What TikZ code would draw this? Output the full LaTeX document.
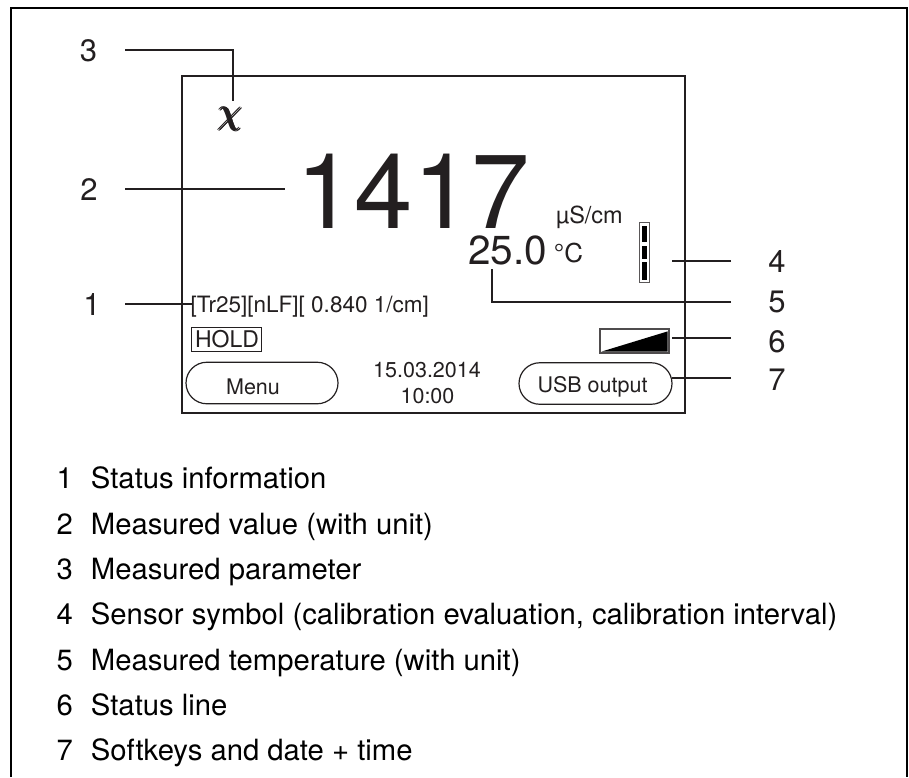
\documentclass[tikz,border=0pt]{standalone}
\usepackage{fontspec}
\setmainfont{TeX Gyre Heros}
\usepackage{xcolor}
\usetikzlibrary{positioning, shapes.misc, calc}
\definecolor{inkBlack}{HTML}{231F20}
\newcommand{\thickchi}{\rlap{$\chi$}\rlap{\kern1.6pt$\chi$}\rlap{\kern.8pt\raisebox{.6pt}{$\chi$}}\rlap{\kern.8pt\raisebox{-.6pt}{$\chi$}}\kern1.6pt$\chi$}
\begin{document}
\begin{tikzpicture}[
  x=1pt, y=-1pt,
  callout/.style={font=\fontsize{31}{31}\selectfont, text=inkBlack, inner sep=0pt, anchor=base},
  lead/.style={draw=inkBlack, line width=2pt},
  softkey/.style={draw=inkBlack, rounded rectangle, line width=1.2pt, minimum height=41.5pt, inner sep=0pt},
  screentxt/.style={font=\fontsize{21.5}{21.5}\selectfont, text=inkBlack, inner sep=0pt, anchor=base},
  legend/.style={font=\fontsize{29.25}{30}\selectfont, text=black, inner sep=0pt, anchor=base west}
]
  \useasboundingbox (0,0) rectangle (909,777);
  \draw[black, line width=2pt] (11,777) -- (11,8) -- (907,8) -- (907,777);
  \node[draw=inkBlack, line width=1.7pt, minimum width=503pt, minimum height=337pt, inner sep=0pt] (screen) at (433.5,244.5) {};

  % screen contents
  \node[inner sep=0pt, text=inkBlack, font=\fontsize{24}{24}\selectfont] (param) at (229.5,119.5) {\scalebox{1.6}[1.45]{\thickchi}};
  \node[inner sep=0pt, text=inkBlack, anchor=base, font=\fontsize{105}{105}\selectfont] (value) at (413,228) {1417};
  \node[screentxt, font=\fontsize{23.5}{24}\selectfont] (unit) at (589.5,223) {µS/cm};
  \node[inner sep=0pt, text=inkBlack, anchor=base, font=\fontsize{40.5}{41}\selectfont] (temp) at (507.5,264) {25.0};
  \node[screentxt, font=\fontsize{26}{26}\selectfont] (tempunit) at (568.5,262) {°C};
  \node[draw=inkBlack!75, line width=1.3pt, minimum width=10.5pt, minimum height=60pt, inner sep=0pt] (sensor) at (644.5,252.5) {};
  \foreach \ya/\yb in {226/242, 246/259, 262/280}
    \fill[black] (642,\ya) rectangle (647,\yb);
  \node[screentxt, anchor=base west, font=\fontsize{22.5}{23}\selectfont] (status) at (190.5,312.5) {[Tr25][nLF][ 0.840 1/cm]};
  \node[draw=inkBlack, line width=1pt, minimum width=70pt, minimum height=24pt, inner sep=0pt] (holdbox) at (226,339) {};
  \node[screentxt, font=\fontsize{23}{23}\selectfont] (hold) at (227,347) {HOLD};
  \node[draw=inkBlack!80, line width=1.2pt, minimum width=69pt, minimum height=24pt, inner sep=0pt] (bar) at (634.5,341) {};
  \fill[black] ($(bar.south west)+(2,-2)$) -- ($(bar.north east)+(-2,3)$) -- ($(bar.south east)+(-2,-2)$) -- cycle;
  \node[softkey, minimum width=152pt] (menu) at (262,383) {};
  \node[screentxt] (menutxt) at (253,394) {Menu};
  \node[screentxt] (date) at (427,377) {15.03.2014};
  \node[screentxt] (time) at (427.5,403) {10:00};
  \node[softkey, minimum width=153pt] (usb) at (595.5,383.5) {};
  \node[screentxt] (usbtxt) at (592.5,392) {USB output};

  % callouts
  \node[callout] (n3) at (88.5,61) {3};
  \node[callout] (n2) at (89,200) {2};
  \node[callout] (n1) at (92,315) {1};
  \node[callout] (n4) at (777,272) {4};
  \node[callout] (n5) at (777,312) {5};
  \node[callout] (n6) at (777,352) {6};
  \node[callout] (n7) at (777,390) {7};

  \coordinate (a3) at (125,50);
  \coordinate (b3) at (232.5,101);
  \coordinate (a2) at (125,189);
  \coordinate (b2) at (285,189);
  \coordinate (a1) at (125,304);
  \coordinate (b1) at (193,304);
  \coordinate (a4) at (731,261);
  \coordinate (b4) at (672,261);
  \coordinate (a5) at (731,301.5);
  \coordinate (b5) at (492,269);
  \coordinate (a6) at (731,338);
  \coordinate (b6) at (672,338);
  \coordinate (a7) at (731,378);
  \coordinate (b7) at (672,378);

  \draw[lead] (a3) -| (b3);
  \draw[lead] (a2) -- (b2);
  \draw[lead] (a1) -- (b1);
  \draw[lead] (a4) -- (b4);
  \draw[lead] (a5) -| (b5);
  \draw[lead] (a6) -- (b6);
  \draw[lead] (a7) -- (b7);

  % legend
  \foreach \n/\txt/\py in {1/Status information/488, 2/Measured value (with unit)/534,
      3/Measured parameter/579, 4/{Sensor symbol (calibration evaluation, calibration interval)}/624.5,
      5/Measured temperature (with unit)/670, 6/Status line/715, 7/Softkeys and date + time/760} {
    \node[legend] (lg\n) at (56.5,\py) {\n};
    \node[legend, right=17.6pt of lg\n.base east, anchor=base west] (lt\n) {\txt};
  }
\end{tikzpicture}
\end{document}
